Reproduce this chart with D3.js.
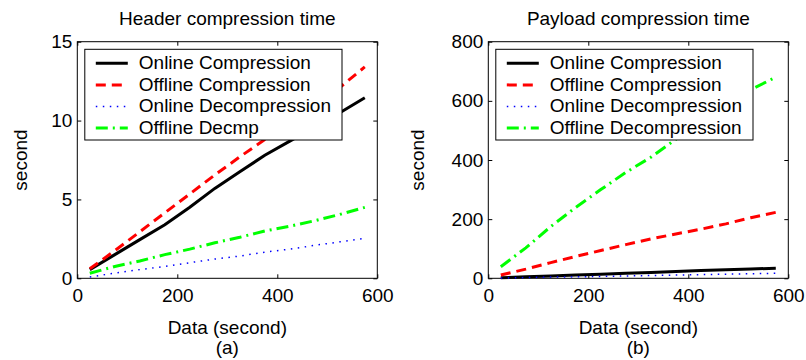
<html>
<head>
<meta charset="utf-8">
<title>Compression time</title>
<style>
  body { margin: 0; background: #fff; }
  text { font-family: "Liberation Sans", Arial, sans-serif; fill: #000; }
  .axis text { font-size: 19px; }
  .axis line { stroke: #000; }
</style>
<script src="https://cdn.jsdelivr.net/npm/d3@7"></script>
</head>
<body>
<svg id="chart" width="806" height="360"></svg>
<script>
// data (seconds of data on x, seconds of processing on y)
var dataSec = [25, 75, 125, 175, 225, 275, 325, 375, 425, 475, 525, 575];

var headerOnlineComp = [0.55, 1.5, 2.45, 3.4, 4.5, 5.7, 6.75, 7.8, 8.7, 9.6, 10.5, 11.45];
var headerOfflineComp = [0.6, 1.75, 2.95, 4.15, 5.35, 6.55, 7.7, 8.8, 9.85, 11.0, 12.1, 13.4];
var headerOnlineDecomp = [0.08, 0.33, 0.55, 0.75, 0.99, 1.22, 1.41, 1.66, 1.85, 2.09, 2.31, 2.53];
var headerOfflineDecomp = [0.32, 0.75, 1.1, 1.5, 1.85, 2.25, 2.6, 3.0, 3.3, 3.65, 4.05, 4.5];

var payloadOnlineComp = [2, 5, 8, 11, 14, 17, 20, 23, 26, 29, 31.5, 34];
var payloadOfflineComp = [11, 31, 53, 74, 94, 114, 133, 150, 166, 184, 205, 223];
var payloadOnlineDecomp = [1, 2.5, 4, 5, 6.5, 8, 9.5, 11, 12.5, 14, 15.5, 17];
var payloadOfflineDecomp = [39, 103, 175, 240, 300, 358, 409, 470, 531, 592, 638, 680];

var xTicks = [0, 200, 400, 600];
var headerYTicks = [0, 5, 10, 15];
var payloadYTicks = [0, 200, 400, 600, 800];

var headerNames = ["Online Compression", "Offline Compression", "Online Decompression", "Offline Decmp"];
var payloadNames = ["Online Compression", "Offline Compression", "Online Decompression", "Offline Decompression"];

// line styles, same order as the names
var styles = [
  {color: "#000000", width: 3, dash: null},
  {color: "#ff0000", width: 3, dash: "10,6"},
  {color: "#0000ff", width: 1.5, dash: "1.5,5.5"},
  {color: "#00ff00", width: 3, dash: "12,5,2,5"}
];

var svg = d3.select("#chart");

function drawPanel(opt) {
  var left = opt.left, top = 41.7, w = 300, h = 236.6;
  var g = svg.append("g").attr("transform", "translate(" + left + "," + top + ")");

  var x = d3.scaleLinear().domain([0, 600]).range([0, w]);
  var y = d3.scaleLinear().domain([0, opt.yMax]).range([h, 0]);

  // axes with inward ticks on all four sides
  g.append("g").attr("class", "axis")
    .attr("transform", "translate(0," + h + ")")
    .call(d3.axisBottom(x).tickValues(xTicks).tickSize(-4).tickSizeOuter(0).tickPadding(10));
  g.append("g").attr("class", "axis")
    .call(d3.axisTop(x).tickValues(xTicks).tickSize(-4).tickSizeOuter(0).tickFormat(""));
  g.append("g").attr("class", "axis")
    .call(d3.axisLeft(y).tickValues(opt.yTicks).tickSize(-4).tickSizeOuter(0).tickPadding(5));
  g.append("g").attr("class", "axis")
    .attr("transform", "translate(" + w + ",0)")
    .call(d3.axisRight(y).tickValues(opt.yTicks).tickSize(-4).tickSizeOuter(0).tickFormat(""));
  g.selectAll(".axis .domain").remove();

  g.append("rect")
    .attr("width", w).attr("height", h)
    .attr("fill", "none").attr("stroke", "#000").attr("stroke-width", 1);

  var line = d3.line()
    .x(function(d, i) { return x(dataSec[i]); })
    .y(function(d) { return y(d); });

  opt.series.forEach(function(s, i) {
    g.append("path")
      .datum(s)
      .attr("d", line)
      .attr("fill", "none")
      .attr("stroke", styles[i].color)
      .attr("stroke-width", styles[i].width)
      .attr("stroke-dasharray", styles[i].dash);
  });

  // titles and labels
  g.append("text").attr("x", w / 2).attr("y", 25 - top)
    .attr("text-anchor", "middle").style("font-size", "19px").text(opt.title);
  g.append("text").attr("x", w / 2).attr("y", 334 - top)
    .attr("text-anchor", "middle").style("font-size", "19px").text("Data (second)");
  g.append("text").attr("x", w / 2).attr("y", 354 - top)
    .attr("text-anchor", "middle").style("font-size", "19px").text(opt.sub);
  g.append("text")
    .attr("transform", "translate(" + (opt.yLabelX - left) + "," + (h / 2) + ") rotate(-90)")
    .attr("text-anchor", "middle").style("font-size", "19px").text("second");

  // legend
  var lg = g.append("g").attr("transform", "translate(7.5,7.6)");
  var box = lg.append("rect")
    .attr("height", 90.7)
    .attr("fill", "#fff").attr("stroke", "#000").attr("stroke-width", 1);
  var maxW = 0;
  opt.names.forEach(function(n, i) {
    var by = 20 + i * 21.6;
    lg.append("line")
      .attr("x1", 11).attr("x2", 43)
      .attr("y1", by - 6).attr("y2", by - 6)
      .attr("stroke", styles[i].color)
      .attr("stroke-width", styles[i].width)
      .attr("stroke-dasharray", styles[i].dash);
    var t = lg.append("text").attr("x", 54).attr("y", by)
      .style("font-size", "19px").text(n);
    maxW = Math.max(maxW, t.node().getComputedTextLength());
  });
  box.attr("width", 54 + maxW + 11);
}

drawPanel({
  left: 77.3, yMax: 15, yTicks: headerYTicks, title: "Header compression time", sub: "(a)",
  yLabelX: 27, names: headerNames,
  series: [headerOnlineComp, headerOfflineComp, headerOnlineDecomp, headerOfflineDecomp]
});

drawPanel({
  left: 488.3, yMax: 800, yTicks: payloadYTicks, title: "Payload compression time", sub: "(b)",
  yLabelX: 424, names: payloadNames,
  series: [payloadOnlineComp, payloadOfflineComp, payloadOnlineDecomp, payloadOfflineDecomp]
});
</script>
</body>
</html>
